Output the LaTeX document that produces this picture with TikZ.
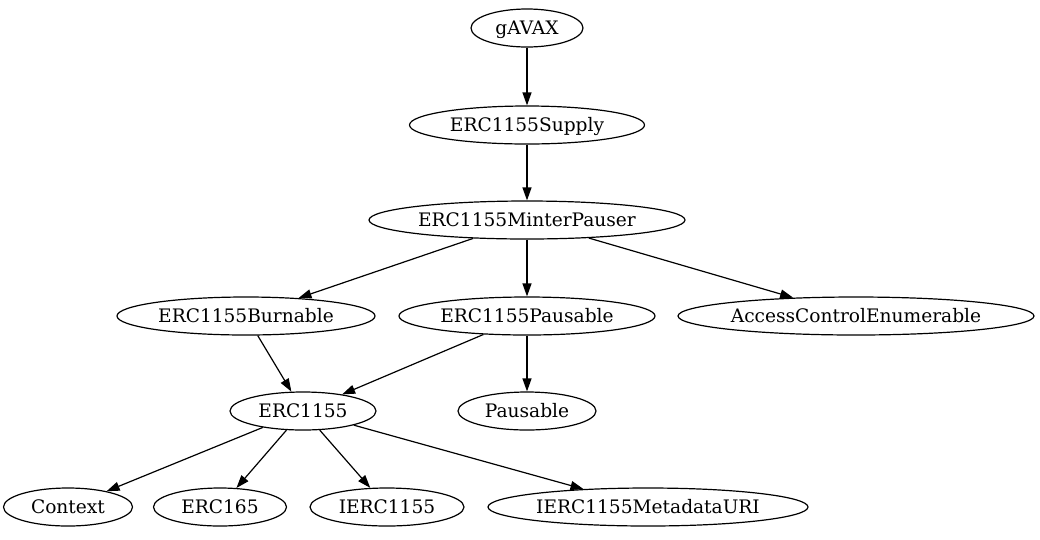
\documentclass[tikz,border=0pt]{standalone}
\usepackage{fontspec}
\setmainfont{DejaVu Serif}
\usetikzlibrary{shapes.geometric,arrows.meta}
\tikzset{
  gv/.style={ellipse, draw, line width=1.2pt, inner sep=0pt, minimum height=38pt,
    font=\fontsize{18.6pt}{20pt}\selectfont, text height=13.6pt, text depth=0pt},
  edge/.style={line width=1.2pt, -{Triangle[length=13pt,width=9pt]}}
}
\newcommand{\gvt}[1]{\makebox[0pt]{#1}}
\begin{document}
\begin{tikzpicture}[x=1pt,y=-1pt]
\useasboundingbox (0,0) rectangle (1040,539);
\node[gv, minimum width=112pt] (gavax) at (527,28) {\gvt{gAVAX}};
\node[gv, minimum width=235pt] (supply) at (527,125) {\gvt{ERC1155Supply}};
\node[gv, minimum width=316pt] (minter) at (527,220) {\gvt{ERC1155MinterPauser}};
\node[gv, minimum width=258pt] (burn) at (246,316) {\gvt{ERC1155Burnable}};
\node[gv, minimum width=256pt] (epause) at (527,316) {\gvt{ERC1155Pausable}};
\node[gv, minimum width=356pt] (ace) at (856,316) {\gvt{AccessControlEnumerable}};
\node[gv, minimum width=146pt] (erc) at (303,411) {\gvt{ERC1155}};
\node[gv, minimum width=138pt] (pause) at (527,411) {\gvt{Pausable}};
\node[gv, minimum width=129pt] (ctx) at (68,507) {\gvt{Context}};
\node[gv, minimum width=133pt] (e165) at (220,507) {\gvt{ERC165}};
\node[gv, minimum width=154pt] (ierc) at (387,507) {\gvt{IERC1155}};
\node[gv, minimum width=320pt] (meta) at (648,507) {\gvt{IERC1155MetadataURI}};
\draw[edge] (gavax) -- (supply);
\draw[edge] (supply) -- (minter);
\draw[edge] (minter) -- (burn);
\draw[edge] (minter) -- (epause);
\draw[edge] (minter) -- (ace);
\draw[edge] (burn) -- (erc);
\draw[edge] (epause) -- (erc);
\draw[edge] (epause) -- (pause);
\draw[edge] (erc) -- (ctx);
\draw[edge] (erc) -- (e165);
\draw[edge] (erc) -- (ierc);
\draw[edge] (erc) -- (meta);
\end{tikzpicture}
\end{document}
